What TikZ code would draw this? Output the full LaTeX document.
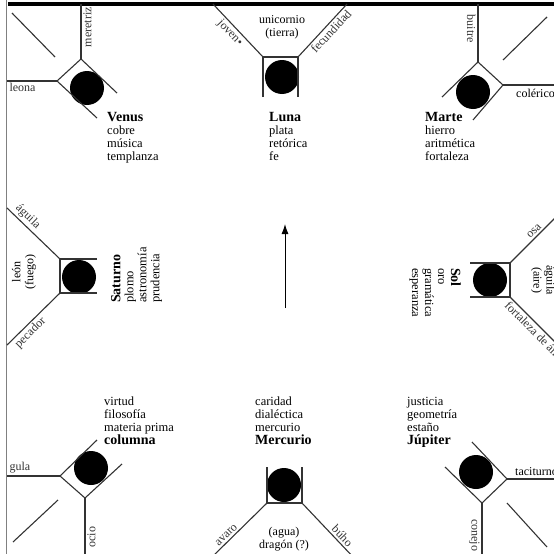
\documentclass[tikz,border=0pt]{standalone}
\usepackage{fontspec}
\setmainfont{Liberation Serif}
\usetikzlibrary{arrows.meta}
\newcommand\pname[1]{{\fontsize{14}{14}\selectfont\bfseries #1}}
\begin{document}
\begin{tikzpicture}[x=1pt, y=-1pt,
    linie/.style={line width=1.1pt, black!80},
    kugel/.style={circle, fill=black, minimum size=34pt, inner sep=0pt},
    lbl/.style={font=\fontsize{12}{13}\selectfont, inner sep=2pt},
    block/.style={font=\fontsize{12.5}{13}\selectfont, align=left, inner sep=0pt}]
  % Rahmen
  \useasboundingbox (0,0) rectangle (554,554);
  \clip (0,0) rectangle (554,554);
  \draw[line width=4pt] (7,4) -- (560,4);
  \draw[gray, double, double distance=1pt, line width=0.6pt] (7,0) -- (7,560);
  % Venus
  \node[kugel] (venus) at (87,88) {};
  \coordinate (venusO) at (81,59);
  \coordinate (venusL) at (57,81);
  \draw[linie] (117,93) -- (venusO) -- (venusL) -- (97,118);
  \draw[linie] (venusO) -- node[lbl, sloped, below, pos=0.58] {meretriz} (81,4);
  \draw[linie] (venusL) -- (7,81) node[lbl, below right] {leona};
  \draw[linie] (12,13) -- (55,57);
  \node[block, anchor=north west] (venusT) at (107,112) {\pname{Venus}\\cobre\\música\\templanza};
  % Luna
  \node[kugel] (luna) at (282,77) {};
  \coordinate (lunaL) at (263,57);
  \coordinate (lunaR) at (298,57);
  \draw[linie] (263,97) -- (lunaL) -- (lunaR) -- (298,97);
  \draw[linie] (213,4) -- node[lbl, sloped, below, pos=0.45] {joven•} (lunaL);
  \draw[linie] (lunaR) -- node[lbl, sloped, below, pos=0.57] {fecundidad} (347,4);
  \node[lbl, align=center] (tierra) at (282,27) {unicornio\\(tierra)};
  \node[block, anchor=north west] (lunaT) at (269,112) {\pname{Luna}\\plata\\retórica\\fe};
  % Marte
  \node[kugel] (marte) at (473,92) {};
  \coordinate (marteO) at (478,62);
  \coordinate (marteR) at (503,85);
  \draw[linie] (442,97) -- (marteO) -- (marteR) -- (473,120);
  \draw[linie] (478,4) -- node[lbl, sloped, below, pos=0.43] {buitre} (marteO);
  \draw[linie] (marteR) -- (560,85);
  \node[lbl, anchor=north west] (colerico) at (514,87) {colérico};
  \draw[linie] (503,60) -- (547,17);
  \node[block, anchor=north west] (marteT) at (425,112) {\pname{Marte}\\hierro\\aritmética\\fortaleza};
  % Saturno
  \node[kugel] (saturno) at (79,277) {};
  \coordinate (saturnoO) at (60,259);
  \coordinate (saturnoU) at (60,293);
  \draw[linie] (97,259) -- (saturnoO) -- (saturnoU) -- (97,293);
  \draw[linie] (7,208) -- node[lbl, sloped, above, pos=0.29] {águila} (saturnoO);
  \draw[linie] (7,345) -- node[lbl, sloped, below, pos=0.34] {pecador} (saturnoU);
  \node[lbl, align=center, rotate=90] (fuego) at (24,272) {león\\(fuego)};
  \node[block, rotate=90, anchor=north west] (saturnoT) at (111,303) {\pname{Saturno}\\plomo\\astronomía\\prudencia};
  % Sol
  \node[kugel] (sol) at (490,280) {};
  \coordinate (solO) at (510,263);
  \coordinate (solU) at (510,297);
  \draw[linie] (470,263) -- (solO) -- (solU) -- (470,297);
  \draw[linie] (solO) -- node[lbl, sloped, above, pos=0.56] {osa} (560,213);
  \draw[linie] (solU) -- node[lbl, sloped, pos=0, anchor=north west] {fortaleza de ánimo} (560,347);
  \node[lbl, align=center, rotate=-90] (aire) at (543,280) {águila\\(aire)};
  \node[block, rotate=-90, anchor=north west] (solT) at (461,268) {\pname{Sol}\\oro\\gramática\\esperanza};
  % columna
  \node[kugel] (columna) at (91,468) {};
  \coordinate (columnaL) at (60,476);
  \coordinate (columnaU) at (85,498);
  \draw[linie] (97,440) -- (columnaL) -- (columnaU) -- (122,464);
  \draw[linie] (columnaL) -- (7,476) node[lbl, above right] {gula};
  \draw[linie] (85,560) -- node[lbl, sloped, below, pos=0.37] {ocio} (columnaU);
  \draw[linie] (58,500) -- (13,542);
  \node[block, anchor=south west] (columnaT) at (104,445) {virtud\\filosofía\\materia prima\\\pname{columna}};
  % Mercurio
  \node[kugel] (mercurio) at (284,485) {};
  \coordinate (mercurioL) at (267,503);
  \coordinate (mercurioR) at (302,503);
  \draw[linie] (267,467) -- (mercurioL) -- (mercurioR) -- (302,467);
  \draw[linie] (212,557) -- node[lbl, sloped, above, pos=0.33] {avaro} (mercurioL);
  \draw[linie] (mercurioR) -- node[lbl, sloped, above, pos=0.67] {búho} (355,559);
  \node[lbl, align=center] (agua) at (284,539) {(agua)\\dragón (?)};
  \node[block, anchor=south west] (mercurioT) at (255,445) {caridad\\dialéctica\\mercurio\\\pname{Mercurio}};
  % Jupiter
  \node[kugel] (jupiter) at (476,472) {};
  \coordinate (jupiterR) at (507,479);
  \coordinate (jupiterU) at (482,503);
  \draw[linie] (472,442) -- (jupiterR) -- (jupiterU) -- (445,467);
  \draw[linie] (jupiterR) -- (560,479);
  \node[lbl, anchor=south west] (taciturno) at (513,478) {taciturno};
  \draw[linie] (jupiterU) -- node[lbl, sloped, pos=0.24, anchor=north west] {conejo} (482,560);
  \draw[linie] (507,503) -- (547,547);
  \node[block, anchor=south west] (jupiterT) at (407,448) {justicia\\geometría\\estaño\\\pname{Júpiter}};
  % Pfeil
  \coordinate (pfeilA) at (285,308);
  \coordinate (pfeilB) at (285,224);
  \draw[line width=1pt, -{Latex[length=10pt, width=7pt]}] (pfeilA) -- (pfeilB);
\end{tikzpicture}
\end{document}
